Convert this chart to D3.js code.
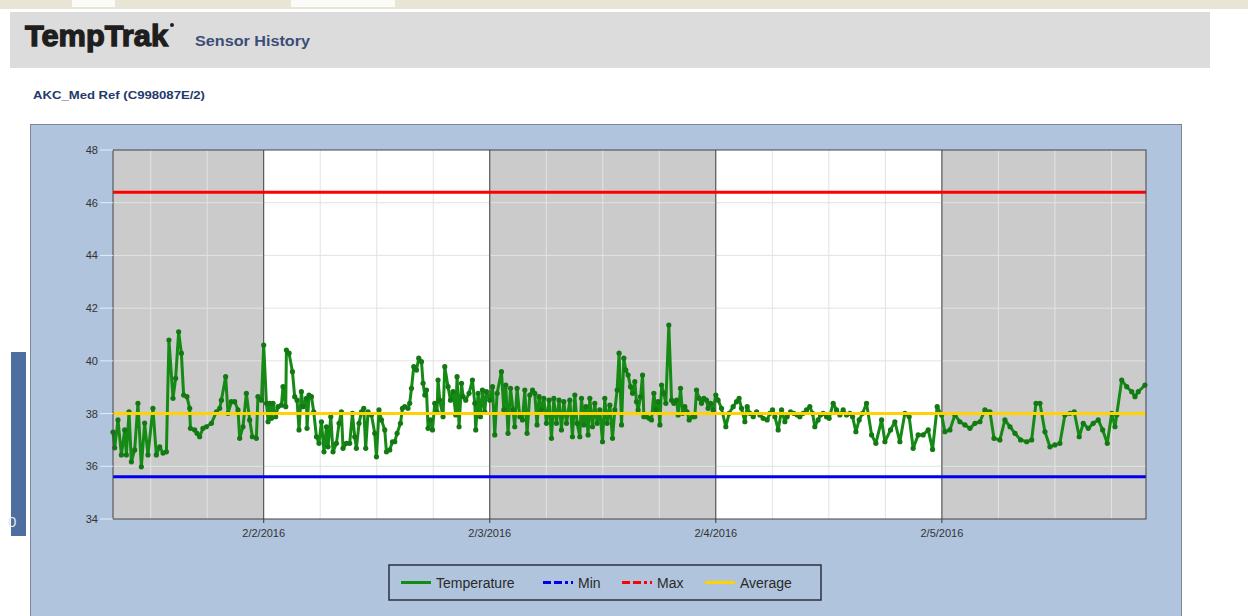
<!DOCTYPE html>
<html>
<head>
<meta charset="utf-8">
<script src="https://cdn.jsdelivr.net/npm/d3@7"></script>
<style>
  body { margin: 0; background: #fff; }
  svg text { font-family: "Liberation Sans", Arial, sans-serif; }
</style>
</head>
<body>
<div id="chartContainer"></div>
<script>
// hours after 2/1/2016 00:00 for every reading
var hours = [
  8.0, 8.18, 8.53, 8.89, 9.24, 9.42, 9.7, 9.95, 10.3, 10.65, 11.01, 11.36, 11.71, 12.24, 12.6, 12.96, 13.31, 13.67,
  13.94, 14.37, 14.65, 14.97, 15.26, 15.5, 15.85, 16.14, 16.22, 16.67, 16.92, 17.2, 17.55, 17.91, 18.45, 18.98,
  19.33, 19.51, 19.96, 20.21, 20.57, 20.92, 21.27, 21.45, 21.8, 22.16, 22.51, 22.8, 23.22, 23.39, 23.76,
  24.0, 24.29, 24.46, 24.64, 24.82, 24.99, 25.27, 25.52, 25.88, 26.05, 26.34, 26.41, 26.69, 27.05, 27.29, 27.54,
  27.75, 28.0, 28.17, 28.53, 28.6, 28.81, 29.07, 29.31, 29.6, 29.87, 30.13, 30.4, 30.66, 30.83, 31.12, 31.36,
  31.72, 32.0, 32.25, 32.42, 32.78, 33.13, 33.42, 33.66, 33.84, 34.12, 34.38, 34.62, 34.83, 35.08, 35.44, 35.79,
  35.97, 36.24, 36.5, 36.85, 37.03, 37.38, 37.67, 37.91, 38.16, 38.52, 38.73, 38.97, 39.32, 39.5, 39.69, 39.93,
  40.22, 40.46, 40.75, 40.92, 41.1, 41.28, 41.45, 41.7, 41.92, 42.16, 42.4, 42.51, 42.69, 43.04, 43.22, 43.57,
  43.83, 44.1, 44.39, 44.53, 44.74, 45.0, 45.17, 45.45, 45.8, 46.16, 46.41, 46.51, 46.76, 47.01, 47.22, 47.47,
  47.65, 48.0, 48.29, 48.53, 48.78, 49.24, 49.49, 49.7, 49.94, 50.2, 50.47, 50.65, 50.9, 51.19, 51.47, 51.72,
  51.96, 52.25, 52.54, 52.78, 53.02, 53.24, 53.49, 53.74, 54.02, 54.3, 54.55, 54.8, 55.08, 55.36, 55.61, 55.86,
  56.15, 56.5, 56.78, 57.03, 57.27, 57.56, 57.74, 57.98, 58.2, 58.44, 58.62, 58.91, 59.15, 59.4, 59.68, 59.97,
  60.21, 60.46, 60.75, 61.03, 61.28, 61.52, 61.73, 61.99, 62.23, 62.44, 62.69, 62.94, 63.16, 63.4, 63.58, 63.75,
  64.01, 64.22, 64.36, 64.64, 64.92, 65.17, 65.42, 65.63, 65.87, 66.06, 66.24, 66.48, 66.69, 67.01, 67.3, 67.54,
  67.83, 68.0, 68.25, 68.47, 68.71, 68.95, 69.17, 69.53, 69.77, 69.95, 70.23, 70.48, 70.73, 71.01, 71.18, 71.44,
  71.71, 72.0, 72.24, 72.6, 73.06, 73.41, 73.84, 74.2, 74.47, 74.73, 75.08, 75.33, 75.61, 75.97, 76.33, 76.68,
  77.03, 77.45, 77.74, 78.02, 78.27, 78.62, 78.98, 79.33, 79.57, 79.93, 80.28, 80.64, 80.92, 81.27, 81.63, 81.98,
  82.27, 82.51, 82.86, 83.12, 83.39, 83.75, 84.03, 84.46, 84.81, 85.17, 85.52, 85.88, 86.23, 86.52, 86.87, 87.22,
  87.58, 88.0, 88.54, 88.99, 89.6, 89.95, 90.55, 91.01, 91.54, 92.07, 92.53, 92.95, 93.48, 94.01, 94.55, 95.01,
  95.5, 95.97, 96.32, 96.85, 97.38, 97.91, 98.45, 98.98, 99.51, 100.04, 100.57, 101.1, 101.53, 102.16, 102.69,
  103.23, 103.76, 104.36, 105.0, 105.53, 105.99, 106.41, 106.94, 107.47, 108.0, 108.53, 109.06, 109.6, 110.05,
  110.58, 111.01, 111.54, 112.07, 112.6, 113.07, 113.56, 114.03, 114.38, 114.56, 115.09, 115.62, 116.15, 116.5,
  116.85, 117.56
];

// temperature readings (F)
var temps = [
  37.3, 36.7, 37.76, 36.43, 37.38, 36.43, 38.07, 36.17, 36.62, 38.39, 35.98, 37.64, 36.43, 38.2, 36.43, 36.74, 36.5, 36.55,
  40.79, 38.58, 39.34, 41.1, 40.29, 38.7, 38.64, 38.2, 37.44, 37.38, 37.25, 37.12, 37.44, 37.5, 37.63, 38.07,
  38.2, 38.51, 39.4, 38.01, 38.45, 38.45, 38.14, 37.06, 37.5, 38.77, 37.76, 37.12, 37.06, 38.64, 38.51,
  40.6, 38.39, 37.69, 38.39, 37.82, 38.39, 37.88, 38.26, 38.32, 39.02, 38.26, 40.41, 40.29, 39.59, 38.64, 38.51,
  37.38, 38.83, 38.26, 38.58, 37.44, 38.7, 38.64, 38.07, 37.12, 36.87, 37.69, 36.55, 37.5, 36.74, 37.88, 36.55,
  36.87, 37.63, 38.07, 36.68, 36.87, 36.87, 38.01, 37.12, 36.68, 37.63, 38.07, 38.2, 36.68, 38.07, 37.95, 37.25,
  36.36, 38.14, 37.76, 37.38, 36.55, 36.62, 36.93, 36.93, 37.25, 37.63, 38.2, 38.26, 38.2, 38.39, 38.96, 39.78,
  39.65, 40.1, 39.97, 39.15, 38.7, 38.89, 37.44, 37.76, 37.38, 38.39, 38.07, 39.27, 38.51, 37.88, 39.78, 39.02,
  38.51, 38.83, 37.95, 39.4, 37.5, 39.15, 38.64, 38.51, 38.77, 39.27, 38.39, 37.38, 38.77, 37.88, 38.89, 38.07,
  38.83, 38.51, 39.02, 37.19, 38.77, 39.59, 38.14, 39.08, 37.25, 38.96, 38.14, 37.5, 38.96, 37.88, 37.76, 38.89,
  37.25, 38.7, 38.89, 38.77, 37.57, 38.64, 38.14, 38.58, 37.63, 38.51, 37.06, 38.58, 37.63, 38.51, 37.38, 38.45,
  37.63, 38.51, 37.12, 38.7, 37.63, 37.12, 38.58, 37.57, 38.26, 37.19, 38.58, 37.5, 38.39, 37.63, 38.14, 36.93,
  38.58, 37.63, 38.32, 37.06, 38.14, 38.89, 40.29, 37.57, 40.1, 39.65, 39.46, 39.02, 38.77, 39.21, 38.45, 38.14,
  38.64, 39.46, 37.88, 37.88, 37.82, 37.76, 38.77, 38.14, 38.45, 37.57, 39.08, 38.77, 38.39, 41.36, 38.51, 38.39,
  38.51, 37.95, 38.96, 38.01, 38.26, 38.07, 37.76, 37.88, 37.88, 38.89, 38.58, 38.39, 38.58, 38.51, 38.2, 38.39,
  38.14, 38.7, 38.51, 38.2, 37.5, 38.01, 38.26, 38.45, 38.58, 38.2, 37.69, 38.26, 38.01, 37.88, 38.07, 37.95,
  37.82, 37.76, 38.01, 38.14, 37.88, 37.38, 38.14, 37.69, 37.88, 38.07, 38.01, 37.95, 37.88, 38.01, 38.14, 38.26,
  38.01, 37.5, 37.76, 37.95, 38.01, 37.88, 37.82, 38.39, 38.14, 37.95, 38.14, 37.95, 38.01, 37.88, 37.31, 37.76,
  38.01, 38.39, 37.19, 36.87, 37.76, 36.93, 37.38, 37.69, 36.93, 38.01, 37.88, 36.68, 37.19, 37.19, 37.38, 36.64,
  38.26, 37.95, 37.31, 37.38, 37.95, 37.69, 37.57, 37.44, 37.63, 37.69, 38.14, 38.07, 37.06, 37.0, 37.76,
  37.5, 37.25, 37.0, 36.93, 37.0, 38.39, 38.39, 37.31, 36.74, 36.81, 36.87, 37.95, 38.01, 38.07,
  37.12, 37.63, 37.44, 37.63, 37.76, 37.38, 36.87, 38.01, 37.5, 37.95, 39.27, 39.02, 38.83, 38.64,
  38.83, 39.08
];

// alarm limits and average
var minLimit = 35.6;
var maxLimit = 46.4;
var avgTemp = 38.0;

var yTicks = [34, 36, 38, 40, 42, 44, 46, 48];
var legendNames = ["Temperature", "Min", "Max", "Average"];
var legendColors = ["#158a15", "#0000ee", "#ff0000", "#ffd200"];

var startHour = 8.0, endHour = 117.67;
var base = new Date(2016, 1, 1);
function hourDate(h) { return new Date(base.getTime() + h * 3600000); }

var data = hours.map(function(h, i) { return { t: hourDate(h), v: temps[i] }; });

var svg = d3.select("#chartContainer").append("svg")
    .attr("width", 1248).attr("height", 616);

// browser strip on top
svg.append("rect").attr("x", 0).attr("y", 0).attr("width", 1248).attr("height", 9).attr("fill", "#e8e4d6");
svg.append("rect").attr("x", 72).attr("y", 0).attr("width", 43).attr("height", 7).attr("fill", "#fbfbf8");
svg.append("rect").attr("x", 291).attr("y", 0).attr("width", 104).attr("height", 7).attr("fill", "#fbfbf8");

// header band
svg.append("rect").attr("x", 10).attr("y", 12).attr("width", 1200).attr("height", 56).attr("fill", "#dcdcdc");
svg.append("text").attr("x", 25).attr("y", 46).text("TempTrak")
    .attr("textLength", 143).attr("lengthAdjust", "spacingAndGlyphs")
    .style("font-size", "30px").style("font-weight", "900").style("fill", "#1e1e1e")
    .style("stroke", "#1e1e1e").style("stroke-width", 1.3);
svg.append("circle").attr("cx", 172).attr("cy", 25).attr("r", 2).attr("fill", "#1e1e1e");
svg.append("text").attr("x", 195).attr("y", 46).text("Sensor History")
    .attr("textLength", 115).attr("lengthAdjust", "spacingAndGlyphs")
    .style("font-size", "14px").style("font-weight", "bold").style("fill", "#3b4d78");

svg.append("text").attr("x", 33).attr("y", 99).text("AKC_Med Ref (C998087E/2)")
    .attr("textLength", 172).attr("lengthAdjust", "spacingAndGlyphs")
    .style("font-size", "11px").style("font-weight", "bold").style("fill", "#24396b");

// side widget on the far left
svg.append("rect").attr("x", 11).attr("y", 352).attr("width", 15).attr("height", 184).attr("fill", "#4d6e9e");
svg.append("text").attr("x", 8).attr("y", 527).text("0").style("font-size", "15px").style("fill", "#e4e9f0");

// chart panel
svg.append("rect").attr("x", 30.5).attr("y", 124.5).attr("width", 1151).attr("height", 500)
    .attr("fill", "#b0c4de").attr("stroke", "#7b8799");

var plotL = 113, plotR = 1146, plotT = 150, plotB = 519;
var x = d3.scaleTime().domain([hourDate(startHour), hourDate(endHour)]).range([plotL, plotR]);
var y = d3.scaleLinear().domain([34, 48]).range([plotB, plotT]);

var plot = svg.append("g");
plot.append("rect").attr("x", plotL).attr("y", plotT).attr("width", plotR - plotL).attr("height", plotB - plotT).attr("fill", "#fff");

// alternate day shading
var days = d3.timeDay.range(d3.timeDay.floor(x.domain()[0]), x.domain()[1]);
days.forEach(function(d, i) {
    if (i % 2 !== 0) return;
    var x0 = Math.max(plotL, x(d)), x1 = Math.min(plotR, x(d3.timeDay.offset(d, 1)));
    plot.append("rect").attr("x", x0).attr("y", plotT).attr("width", x1 - x0).attr("height", plotB - plotT).attr("fill", "#cbcbcb");
});

// gridlines
plot.selectAll("line.hgrid").data(yTicks.slice(1, -1)).enter().append("line")
    .attr("x1", plotL).attr("x2", plotR).attr("y1", function(d) { return y(d); }).attr("y2", function(d) { return y(d); })
    .attr("stroke", "#e3e3e3").attr("stroke-width", 1);
var sixHours = d3.timeHour.every(6).range(x.domain()[0], x.domain()[1]).filter(function(d) { return d.getHours() !== 0; });
plot.selectAll("line.vgrid").data(sixHours).enter().append("line")
    .attr("x1", function(d) { return x(d); }).attr("x2", function(d) { return x(d); })
    .attr("y1", plotT).attr("y2", plotB).attr("stroke", "#e3e3e3").attr("stroke-width", 1);

// y axis labels with short white ticks
svg.selectAll("line.ytick").data(yTicks).enter().append("line")
    .attr("x1", 100).attr("x2", plotL).attr("y1", function(d) { return y(d); }).attr("y2", function(d) { return y(d); })
    .attr("stroke", "#e6ecf5").attr("stroke-width", 1);
svg.selectAll("text.ylab").data(yTicks).enter().append("text")
    .attr("x", 98).attr("y", function(d) { return y(d) + 4; })
    .attr("text-anchor", "end").style("font-size", "11px").style("fill", "#333").text(function(d) { return d; });

// day separators and labels
var midnights = d3.timeDay.range(d3.timeDay.ceil(x.domain()[0]), x.domain()[1]);
plot.selectAll("line.day").data(midnights).enter().append("line")
    .attr("x1", function(d) { return x(d); }).attr("x2", function(d) { return x(d); })
    .attr("y1", plotT).attr("y2", plotB + 4).attr("stroke", "#3a3a3a").attr("stroke-width", 1);
var fmt = d3.timeFormat("%-m/%-d/%Y");
svg.selectAll("text.xlab").data(midnights).enter().append("text")
    .attr("x", function(d) { return x(d); }).attr("y", 537)
    .attr("text-anchor", "middle").style("font-size", "11px").style("fill", "#333").text(fmt);

// temperature series
var line = d3.line().x(function(d) { return x(d.t); }).y(function(d) { return y(d.v); });
plot.append("path").datum(data).attr("d", line)
    .attr("fill", "none").attr("stroke", legendColors[0]).attr("stroke-width", 3).attr("stroke-linejoin", "round");
plot.selectAll("circle.pt").data(data).enter().append("circle")
    .attr("cx", function(d) { return x(d.t); }).attr("cy", function(d) { return y(d.v); })
    .attr("r", 2.6).attr("fill", "#137a13");

// limit lines
[[maxLimit, legendColors[2]], [minLimit, legendColors[1]], [avgTemp, legendColors[3]]].forEach(function(l) {
    plot.append("line").attr("x1", plotL).attr("x2", plotR).attr("y1", y(l[0])).attr("y2", y(l[0]))
        .attr("stroke", l[1]).attr("stroke-width", 3);
});

// plot frame
plot.append("rect").attr("x", plotL).attr("y", plotT).attr("width", plotR - plotL).attr("height", plotB - plotT)
    .attr("fill", "none").attr("stroke", "#444").attr("stroke-width", 1);

// legend
var lg = svg.append("g");
lg.append("rect").attr("x", 389).attr("y", 565).attr("width", 432).attr("height", 35)
    .attr("fill", "none").attr("stroke", "#2b3140").attr("stroke-width", 1.5);
var lgX = [401, 543, 622, 705];
var dashes = [null, "8,3,8,3,3,3", "8,3,8,3,3,3", null];
legendNames.forEach(function(n, i) {
    lg.append("line").attr("x1", lgX[i]).attr("x2", lgX[i] + 30).attr("y1", 582.5).attr("y2", 582.5)
        .attr("stroke", legendColors[i]).attr("stroke-width", 3).attr("stroke-dasharray", dashes[i]);
    lg.append("text").attr("x", lgX[i] + 35).attr("y", 587.5).text(n)
        .style("font-size", "14px").style("fill", "#2a2a2a");
});
</script>
</body>
</html>
